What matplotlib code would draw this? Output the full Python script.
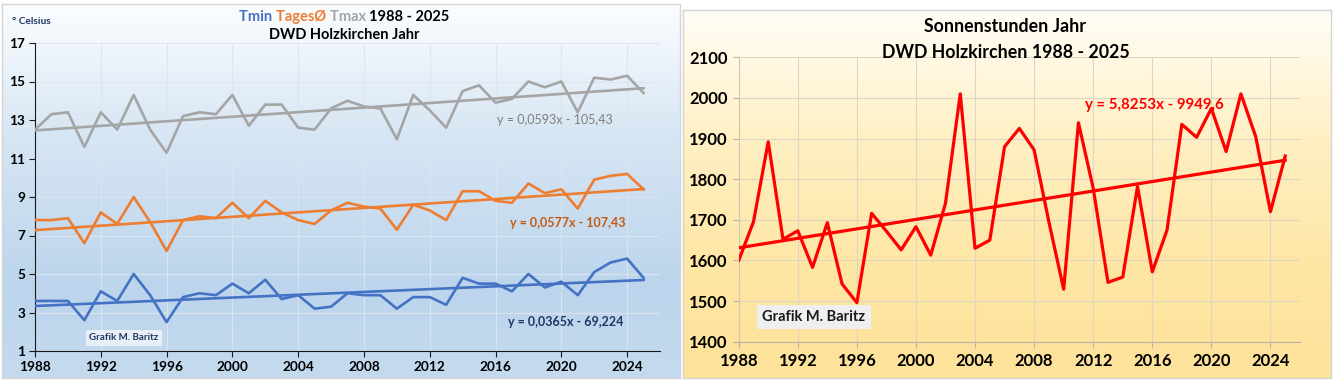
import numpy as np
import matplotlib
matplotlib.use("Agg")
import matplotlib.pyplot as plt
from matplotlib.colors import LinearSegmentedColormap

plt.rcParams['font.family'] = ['Lato', 'DejaVu Sans']

# ---------------- data ----------------
years = list(range(1988, 2026))
tmax = [12.5, 13.3, 13.4, 11.6, 13.4, 12.5, 14.3, 12.5, 11.3, 13.2,
        13.4, 13.3, 14.3, 12.7, 13.8, 13.8, 12.6, 12.5, 13.6, 14.0,
        13.7, 13.6, 12.0, 14.3, 13.5, 12.6, 14.5, 14.8, 13.9, 14.1,
        15.0, 14.7, 15.0, 13.4, 15.2, 15.1, 15.3, 14.4]
tmean = [7.8, 7.8, 7.9, 6.6, 8.2, 7.6, 9.0, 7.7, 6.2, 7.8,
         8.0, 7.9, 8.7, 7.9, 8.8, 8.2, 7.8, 7.6, 8.3, 8.7,
         8.5, 8.4, 7.3, 8.6, 8.3, 7.8, 9.3, 9.3, 8.8, 8.7,
         9.7, 9.2, 9.4, 8.4, 9.9, 10.1, 10.2, 9.4]
tmin = [3.6, 3.6, 3.6, 2.6, 4.1, 3.6, 5.0, 3.9, 2.5, 3.8,
        4.0, 3.9, 4.5, 4.0, 4.7, 3.7, 3.9, 3.2, 3.3, 4.0,
        3.9, 3.9, 3.2, 3.8, 3.8, 3.4, 4.8, 4.5, 4.5, 4.1,
        5.0, 4.3, 4.6, 3.9, 5.1, 5.6, 5.8, 4.8]
sun = [1600, 1695, 1892, 1652, 1673, 1583, 1693, 1542, 1496, 1716,
       1672, 1626, 1683, 1613, 1741, 2010, 1630, 1650, 1880, 1925,
       1872, 1695, 1529, 1939, 1778, 1546, 1559, 1782, 1572, 1675,
       1935, 1903, 1974, 1868, 2010, 1905, 1720, 1857]

# trend coefficients as printed in the chart
tmax_trend = (0.0593, -105.43)
tmean_trend = (0.0577, -107.43)
tmin_trend = (0.0365, -69.224)
sun_trend = (5.8253, -9949.6)

tmax_label = "y = 0,0593x - 105,43"
tmean_label = "y = 0,0577x - 107,43"
tmin_label = "y = 0,0365x - 69,224"
sun_label = "y = 5,8253x - 9949,6"

x_ticks = list(range(1988, 2025, 4))
temp_yticks = list(range(1, 18, 2))
sun_yticks = list(range(1400, 2101, 100))

# ---------------- figure ----------------
W, H = 1335, 381
fig = plt.figure(figsize=(W / 100, H / 100), dpi=100)
fig.patch.set_facecolor('white')


def box(x0, y0, x1, y1):
    return [x0 / W, 1 - y1 / H, (x1 - x0) / W, (y1 - y0) / H]


def gradient_panel(rect, colors, stops):
    ax = fig.add_axes(box(*rect), zorder=0)
    cmap = LinearSegmentedColormap.from_list('g', list(zip(stops, colors)))
    grad = np.linspace(0, 1, 256).reshape(-1, 1)
    ax.imshow(grad, aspect='auto', cmap=cmap, extent=[0, 1, 0, 1], origin='upper')
    ax.set_xticks([])
    ax.set_yticks([])
    for s in ax.spines.values():
        s.set_color('#d4d4d4')
        s.set_linewidth(1.0)
    return ax


gradient_panel((2, 4, 680, 378), ['#fbfdff', '#d7e6f4', '#bcd5ec', '#c4daef'], [0, 0.35, 0.75, 1])
gradient_panel((683, 10, 1331, 378), ['#fffdf6', '#fff0c4', '#fee6a4', '#fde29a'], [0, 0.35, 0.7, 1])

# ---------------- left: temperatures ----------------
axL = fig.add_axes(box(35, 43, 660, 351), zorder=2)
axL.patch.set_alpha(0)
blue, orange, gray = '#4472c4', '#ed7d31', '#a5a5a5'
yrs = np.array(years)
for data, col, (m, b) in [(tmax, gray, tmax_trend), (tmean, orange, tmean_trend), (tmin, blue, tmin_trend)]:
    axL.plot(years, data, color=col, lw=1.9, zorder=3)
    axL.plot(yrs, m * yrs + b, color=col, lw=1.9, zorder=3)
axL.set_xlim(1988, 2026)
axL.set_ylim(1, 17)
axL.set_xticks(x_ticks)
axL.set_yticks(temp_yticks)
axL.grid(True, color='#dde6ef', lw=0.8, alpha=0.9)
axL.set_axisbelow(True)
for s in ['top', 'right']:
    axL.spines[s].set_visible(False)
axL.spines['left'].set_color('#1a1a1a')
axL.spines['bottom'].set_color('#1a1a1a')
axL.tick_params(direction='out', length=4, width=0.8, colors='#1a1a1a', labelsize=9.8, pad=3)
for lab in axL.get_xticklabels() + axL.get_yticklabels():
    lab.set_fontweight('bold')
    lab.set_color('black')

fig.text(12 / W, 1 - 22 / H, '° Celsius', fontsize=7.3, fontweight='bold', color='#1f3864', va='center', ha='left')
fig.text(344 / W, 1 - 35 / H, 'DWD Holzkirchen Jahr', fontsize=10.5, fontweight='bold', color='black', ha='center', va='center')

fig.text(555 / W, 1 - 120 / H, tmax_label, fontsize=9, color='#7f7f7f', ha='center', va='center')
fig.text(568 / W, 1 - 223 / H, tmean_label, fontsize=9, fontweight='bold', color='#c55a11', ha='center', va='center')
fig.text(566 / W, 1 - 322 / H, tmin_label, fontsize=9, fontweight='bold', color='#203864', ha='center', va='center')

fig.text(124 / W, 1 - 338 / H, 'Grafik M. Baritz', fontsize=7, fontweight='bold', color='#1f3864',
         ha='center', va='center',
         bbox=dict(boxstyle='square,pad=0.35', fc='#e9eff6', ec='none'))

# multi-coloured first title line
parts = [('Tmin ', blue), ('TagesØ ', orange), ('Tmax ', gray), ('1988 - 2025', 'black')]
renderer = fig.canvas.get_renderer()
tmp = []
total = 0
for s, c in parts:
    t = fig.text(0, 0, s.replace(' ', '\u00a0'), fontsize=10.5, fontweight='bold', color=c, va='center')
    w = t.get_window_extent(renderer).width
    tmp.append((t, w))
    total += w
x = 344.5 - total / 2
for t, w in tmp:
    t.set_position((x / W, 1 - 17 / H))
    x += w

# ---------------- right: sunshine ----------------
axR = fig.add_axes(box(738.7, 57.3, 1300, 341.7), zorder=2)
axR.patch.set_alpha(0)
axR.plot(years, sun, color='#ff0000', lw=2.3, zorder=3)
m, b = sun_trend
axR.plot(yrs, m * yrs + b, color='#ff0000', lw=2.3, zorder=3)
axR.set_xlim(1988, 2026)
axR.set_ylim(1400, 2100)
axR.set_xticks(x_ticks)
axR.set_yticks(sun_yticks)
axR.grid(True, color='#ddd6c4', lw=0.8)
axR.set_axisbelow(True)
for s in ['top', 'right']:
    axR.spines[s].set_visible(False)
axR.spines['left'].set_color('#cfc7b3')
axR.spines['bottom'].set_color('#b9b2a0')
axR.tick_params(direction='out', length=4, width=0.8, colors='#b9b2a0', labelsize=12, pad=4)
for lab in axR.get_xticklabels() + axR.get_yticklabels():
    lab.set_fontweight('bold')
    lab.set_color('black')

fig.text(1005 / W, 1 - 27 / H, 'Sonnenstunden Jahr', fontsize=12.8, fontweight='bold', color='black', ha='center', va='center')
fig.text(1006 / W, 1 - 53 / H, 'DWD Holzkirchen 1988 - 2025', fontsize=12.8, fontweight='bold', color='black', ha='center', va='center')
fig.text(1154 / W, 1 - 105 / H, sun_label, fontsize=10.8, fontweight='bold', color='#ff0000', ha='center', va='center')
fig.text(814 / W, 1 - 317 / H, 'Grafik M. Baritz', fontsize=10.5, fontweight='bold', color='#1a1a1a',
         ha='center', va='center',
         bbox=dict(boxstyle='square,pad=0.35', fc='#efefef', ec='none'))

fig.savefig('out.png', dpi=100)
